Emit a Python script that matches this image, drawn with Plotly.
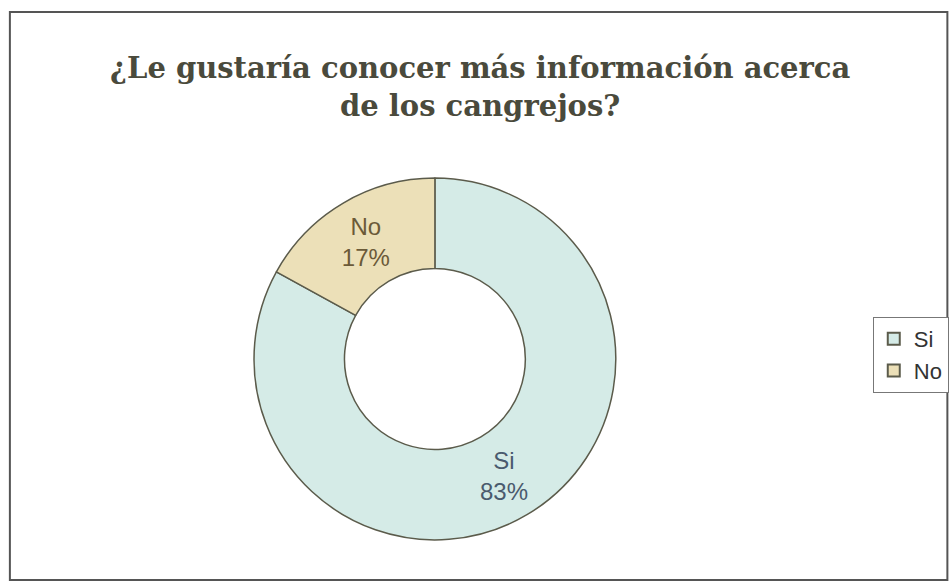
import plotly.graph_objects as go

labels = ["Si", "No"]
values = [83, 17]
colors = ["#d5ebe7", "#ece0b8"]
text_colors = ["#4a5a6e", "#6b5a38"]
title_text = "¿Le gustaría conocer más información acerca<br>de los cangrejos?"

W, H = 949, 584
cx, cy, r = 440, 359, 183

fig = go.Figure(go.Pie(
    labels=labels,
    values=values,
    hole=0.5,
    sort=False,
    direction="clockwise",
    rotation=0,
    marker=dict(colors=colors, line=dict(color="#5b5b4b", width=1.5)),
    texttemplate="%{label}<br>%{percent:.0%}",
    textposition="inside",
    insidetextorientation="horizontal",
    textfont=dict(family="Arial, Liberation Sans", size=24, color=text_colors),
    domain=dict(x=[(cx - r) / W, (cx + r) / W], y=[1 - (cy + r) / H, 1 - (cy - r) / H]),
))

fig.update_layout(
    width=W, height=H,
    margin=dict(l=0, r=0, t=0, b=0),
    paper_bgcolor="white",
    plot_bgcolor="white",
    showlegend=True,
    legend=dict(
        x=883 / W, y=1 - 317 / H, xanchor="left", yanchor="top",
        bordercolor="#777777", borderwidth=1, bgcolor="white",
        font=dict(family="Arial, Liberation Sans", size=22, color="#333333"),
        itemsizing="constant", itemwidth=30, tracegroupgap=0,
    ),
    annotations=[dict(
        text=title_text, x=486 / W, y=1 - 49 / H, xref="paper", yref="paper",
        xanchor="center", yanchor="top", showarrow=False,
        font=dict(family="DejaVu Serif", size=29, color="#4a4a3c", weight="bold"),
        align="center",
    )],
    shapes=[dict(
        type="rect", xref="paper", yref="paper",
        x0=10 / W, x1=1.01, y0=1 - 580 / H, y1=1 - 12 / H,
        line=dict(color="#555555", width=2),
    )],
)

fig.write_html("out.html")
